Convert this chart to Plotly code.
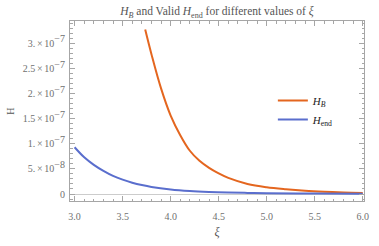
import plotly.graph_objects as go

xi_B = [3.735, 3.8, 3.9, 4.0, 4.1, 4.2, 4.3, 4.4, 4.5, 4.6, 4.8, 5.0, 5.2, 5.4, 5.6, 5.8, 6.0]
H_B = [3.27e-7, 2.78e-7, 2.10e-7, 1.56e-7, 1.17e-7, 0.86e-7, 0.66e-7, 0.52e-7, 0.41e-7,
       0.32e-7, 0.20e-7, 0.135e-7, 0.095e-7, 0.065e-7, 0.045e-7, 0.03e-7, 0.02e-7]

xi_end = [3.0, 3.1, 3.2, 3.3, 3.4, 3.5, 3.6, 3.7, 3.8, 4.0, 4.2, 4.4, 4.6, 4.8, 5.0, 5.5, 6.0]
H_end = [0.93e-7, 0.73e-7, 0.58e-7, 0.46e-7, 0.36e-7, 0.285e-7, 0.225e-7, 0.178e-7, 0.14e-7,
         0.09e-7, 0.06e-7, 0.042e-7, 0.03e-7, 0.022e-7, 0.016e-7, 0.009e-7, 0.005e-7]

x_tickvals = [3.0, 3.5, 4.0, 4.5, 5.0, 5.5, 6.0]
x_ticktext = ["3.0", "3.5", "4.0", "4.5", "5.0", "5.5", "6.0"]
y_tickvals = [0, 5e-8, 1e-7, 1.5e-7, 2e-7, 2.5e-7, 3e-7]
y_mantissas = ["", "5.", "1.", "1.5", "2.", "2.5", "3."]
y_exponents = ["", "−8", "−7", "−7", "−7", "−7", "−7"]
y_ticktext = ["0" if not m else
              f"{m}<span style='font-size:7px'> </span>×<span style='font-size:7px'> </span>10"
              f"<sup><span style='font-size:10px'>{e}</span></sup>"
              for m, e in zip(y_mantissas, y_exponents)]

SERIF = "Liberation Serif, Times New Roman, serif"
ORANGE = "#e4661f"
BLUE = "#5a6ecd"
FRAME = "#a6a6a6"
TICKFONT = dict(family=SERIF, size=10, color="#707070")

fig = go.Figure()
fig.add_trace(go.Scatter(x=xi_B, y=H_B, mode="lines", line=dict(color=ORANGE, width=2, shape="spline"),
                         name="<i>H</i><sub><i>B</i></sub>"))
fig.add_trace(go.Scatter(x=xi_end, y=H_end, mode="lines", line=dict(color=BLUE, width=2, shape="spline"),
                         name="<i>H</i><sub>end</sub>"))

fig.update_layout(
    width=379, height=246,
    margin=dict(l=68, r=10, t=21, b=37),
    paper_bgcolor="white", plot_bgcolor="white",
    title=dict(text="<i>H</i><sub><i>B</i></sub> and Valid <i>H</i><sub>end</sub> for different values of <i>ξ</i>",
               x=0.5, xref="paper", xanchor="center", y=0.955, yanchor="middle",
               font=dict(family=SERIF, size=11.5, color="#555555")),
    showlegend=True,
    legend=dict(x=0.69, y=0.505, xanchor="left", yanchor="middle", bgcolor="rgba(0,0,0,0)",
                font=dict(family=SERIF, size=11, color="#222222"), itemwidth=30, tracegroupgap=8),
    xaxis=dict(range=[2.952, 6.013], tickvals=x_tickvals, ticktext=x_ticktext,
               ticks="inside", ticklen=5, tickcolor=FRAME, showline=True, linecolor=FRAME, linewidth=1,
               mirror="ticks", showgrid=False, zeroline=False, tickfont=TICKFONT, ticklabelstandoff=6,
               minor=dict(dtick=0.1, tick0=3.0, ticks="inside", ticklen=2.5, tickcolor=FRAME, showgrid=False),
               title=dict(text="<i>ξ</i>", font=dict(family=SERIF, size=12, color="#555555"), standoff=6)),
    yaxis=dict(range=[-1.39e-8, 3.44e-7], tickvals=y_tickvals, ticktext=y_ticktext,
               ticks="inside", ticklen=5, tickcolor=FRAME, showline=True, linecolor=FRAME, linewidth=1,
               mirror="ticks", showgrid=False, zeroline=True, zerolinecolor="#cccccc", zerolinewidth=1,
               tickfont=TICKFONT, ticklabelstandoff=2,
               minor=dict(dtick=1e-8, tick0=0, ticks="inside", ticklen=2.5, tickcolor=FRAME, showgrid=False),
               title=dict(text="H", font=dict(family=SERIF, size=10, color="#555555"), standoff=6)),
)

fig.write_html("out.html", post_script="document.body.style.margin='0';",
               config={"displayModeBar": False})
